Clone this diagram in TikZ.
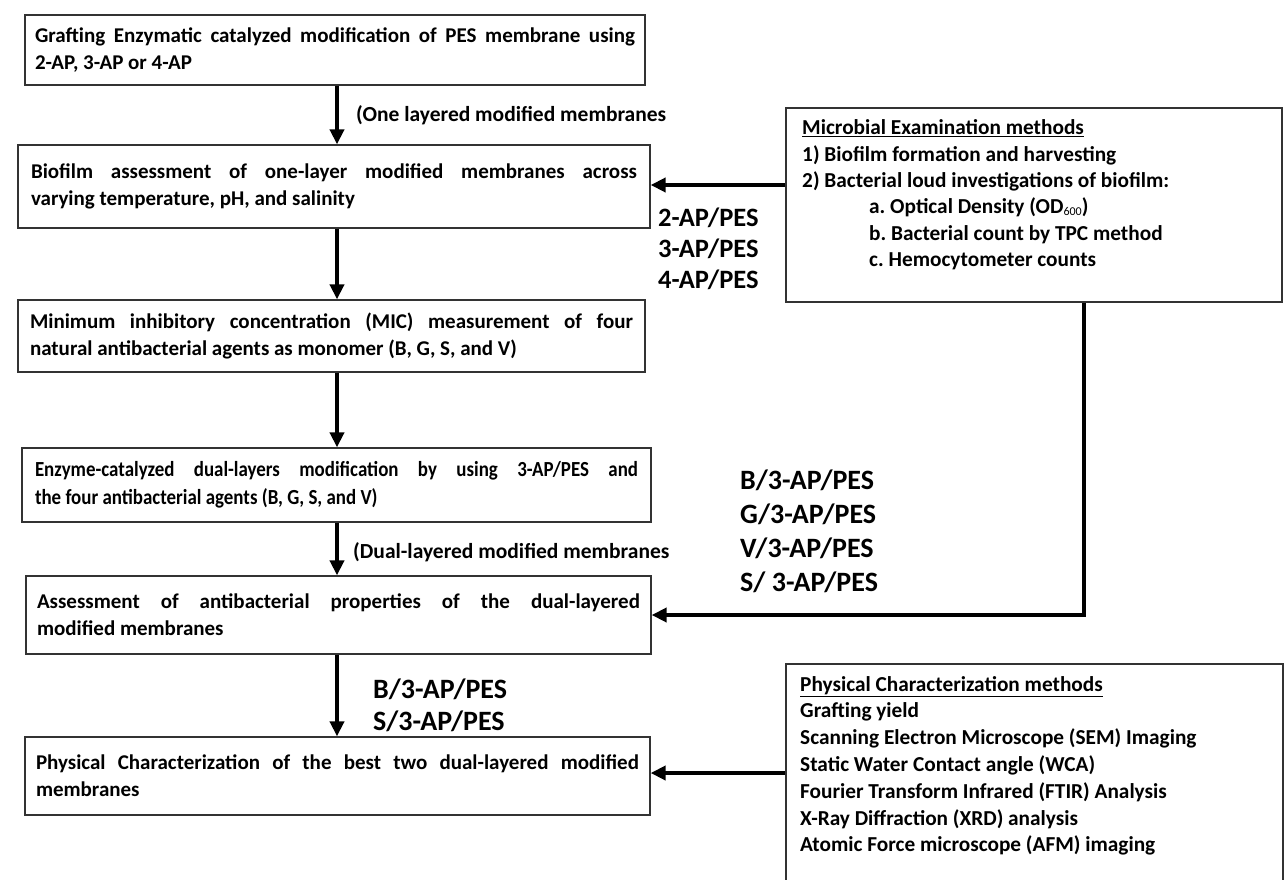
\documentclass[tikz,border=0pt]{standalone}
\usepackage{fontspec}
\setmainfont{Carlito}
\newfontfamily\condfont[FakeStretch=0.88]{Carlito}
\usetikzlibrary{arrows.meta,calc}
\begin{document}
\begin{tikzpicture}[x=1pt,y=-1pt,
 box/.style={draw=black!80,line width=1.3pt,rectangle,inner sep=0pt},
 boxtext/.style={align=justify,font=\fontsize{21}{27}\selectfont\bfseries\frenchspacing},
 arr/.style={line width=4pt,line join=miter,-{Triangle[length=15pt,width=14pt]}},
 lbl/.style={font=\fontsize{21.5}{24}\selectfont\bfseries,anchor=west,inner sep=0pt},
 big/.style={font=\fontsize{28}{33}\selectfont\bfseries,anchor=west,inner sep=0pt},
 sidetext/.style={font=\fontsize{21.3}{26.4}\selectfont\bfseries\frenchspacing,align=left,anchor=north west,inner sep=0pt}]
\useasboundingbox (0,0) rectangle (1285,880);
\clip (0,0) rectangle (1285,880);
\coordinate (ax) at (337,0);
% main column
\node[box,boxtext,minimum width=620pt,minimum height=70pt,text width=600pt] (b1) at (335,50)
 {Grafting Enzymatic catalyzed modification of PES membrane using\linebreak 2-AP, 3-AP or 4-AP};
\node[box,boxtext,minimum width=632pt,minimum height=83pt,text width=606pt] (b2) at (334,186.5)
 {Biofilm assessment of one-layer modified membranes across\linebreak varying temperature, pH, and salinity};
\node[box,boxtext,minimum width=627pt,minimum height=72pt,text width=603pt] (b3) at (331.5,336)
 {Minimum inhibitory concentration (MIC) measurement of four\linebreak natural antibacterial agents as monomer (B, G, S, and V)};
\node[box,boxtext,minimum width=629pt,minimum height=74pt,text width=603pt,font=\fontsize{21.5}{27.5}\condfont\bfseries\frenchspacing] (b4) at (336.5,485)
 {Enzyme-catalyzed dual-layers modification by using 3-AP/PES and\linebreak the four antibacterial agents (B, G, S, and V)};
\node[box,boxtext,minimum width=625pt,minimum height=78pt,text width=603pt] (b5) at (338.5,615)
 {Assessment of antibacterial properties of the dual-layered\linebreak modified membranes};
\node[box,boxtext,minimum width=625pt,minimum height=78pt,text width=603pt] (b6) at (337.5,776)
 {Physical Characterization of the best two dual-layered modified\linebreak membranes};
% right boxes
\node[box,minimum width=496pt,minimum height=194pt] (micbox) at (1034,205) {};
\node[sidetext] (mictext) at (802,119.5)
 {\underline{Microbial Examination methods}\\
  1) Biofilm formation and harvesting\\
  2) Bacterial loud investigations of biofilm:\\
  \hspace*{67pt}a. Optical Density (OD\raisebox{-1.5pt}{\fontsize{12}{12}\selectfont\mdseries 600})\\
  \hspace*{67pt}b. Bacterial count by TPC method\\
  \hspace*{67pt}c. Hemocytometer counts};
\node[box,minimum width=497pt,minimum height=260pt] (physbox) at (1034.5,794) {};
\node[sidetext,font=\fontsize{21.3}{26.8}\selectfont\bfseries\frenchspacing] (phystext) at (800,676)
 {\underline{Physical Characterization methods}\\
  Grafting yield\\
  Scanning Electron Microscope (SEM) Imaging\\
  Static Water Contact angle (WCA)\\
  Fourier Transform Infrared (FTIR) Analysis\\
  X-Ray Diffraction (XRD) analysis\\
  Atomic Force microscope (AFM) imaging};
% labels
\node[lbl] (l1) at (356,115) {(One layered modified membranes};
\node[lbl] (l2) at (353,552) {(Dual-layered modified membranes};
\node[big,font=\fontsize{26.5}{30}\selectfont\bfseries] (m1) at (658,218) {2-AP/PES};
\node[big,font=\fontsize{26.5}{30}\selectfont\bfseries] (m2) at (658,249) {3-AP/PES};
\node[big,font=\fontsize{26.5}{30}\selectfont\bfseries] (m3) at (658,280) {4-AP/PES};
\node[big] (d1) at (740,480) {B/3-AP/PES};
\node[big] (d2) at (740,514) {G/3-AP/PES};
\node[big] (d3) at (740,548) {V/3-AP/PES};
\node[big] (d4) at (740,582) {S/ 3-AP/PES};
\node[big] (e1) at (373,689) {B/3-AP/PES};
\node[big] (e2) at (373,721) {S/3-AP/PES};
% connectors
\draw[arr] (b1.south -| ax) -- (b2.north -| ax);
\draw[arr] (b2.south -| ax) -- (b3.north -| ax);
\draw[arr] (b3.south -| ax) -- (b4.north -| ax);
\draw[arr] (b4.south -| ax) -- (b5.north -| ax);
\draw[arr] (b5.south -| ax) -- (b6.north -| ax);
\draw[arr] (micbox.west |- 0,185) -- (b2.east |- 0,185);
\coordinate (mc) at (1084,615);
\draw[arr] (micbox.south -| mc) -- (mc) -- (b5.east |- mc);
\draw[arr] (physbox.west |- 0,773) -- (b6.east |- 0,773);
\end{tikzpicture}
\end{document}
